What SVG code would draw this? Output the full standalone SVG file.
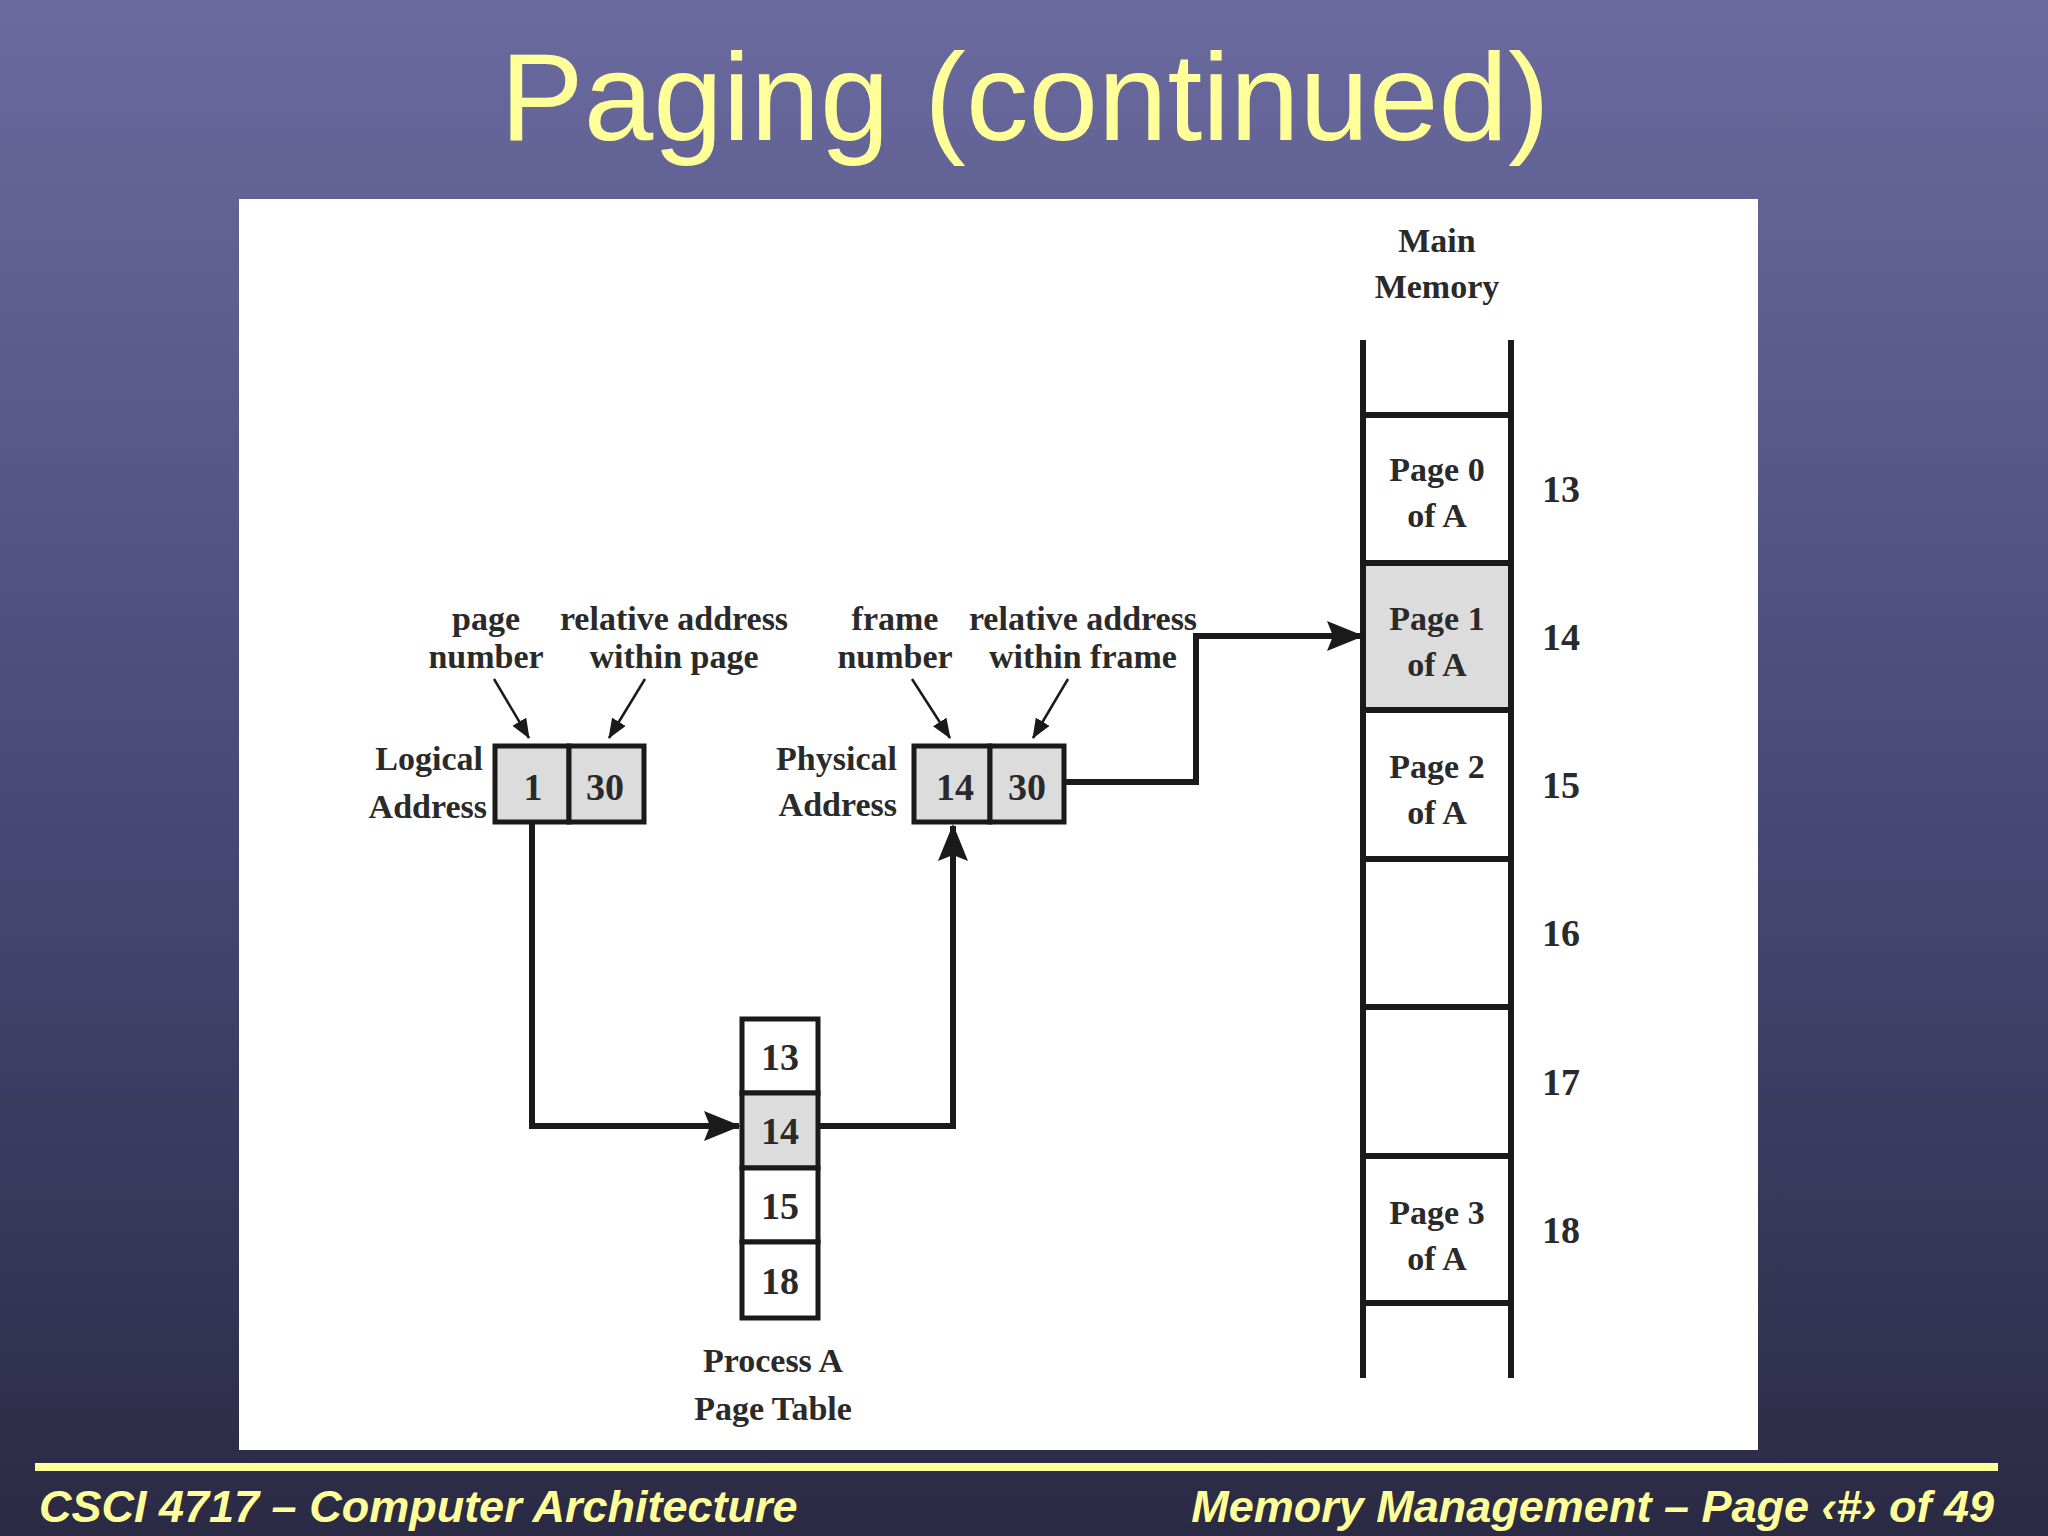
<svg xmlns="http://www.w3.org/2000/svg" width="2048" height="1536" viewBox="0 0 2048 1536">
<defs>
<linearGradient id="bg" x1="0" y1="0" x2="0" y2="1">
<stop offset="0" stop-color="#6b6a9f"/><stop offset="0.5" stop-color="#4a4a78"/><stop offset="1" stop-color="#2a2a44"/>
</linearGradient>
<marker id="ah" viewBox="0 0 37 30" refX="35" refY="15" markerWidth="37" markerHeight="30" orient="auto" markerUnits="userSpaceOnUse">
<path d="M0,0 L37,15 L0,30 L6,15 z" fill="#1a1a1a"/>
</marker>
<marker id="sa" viewBox="0 0 20 16" refX="19" refY="8" orient="auto" markerUnits="userSpaceOnUse" markerWidth="20" markerHeight="16">
<path d="M0,0 L20,8 L0,16 z" fill="#1a1a1a"/>
</marker>
<style>
.t{font-family:"Liberation Serif",serif;font-size:34px;font-weight:bold;fill:#2a2a2a;text-anchor:middle}
.n{font-family:"Liberation Serif",serif;font-size:38px;font-weight:bold;fill:#2a2a2a;text-anchor:middle}
.r{text-anchor:end}
.box{stroke:#1a1a1a;stroke-width:5;fill:#fff}
.g{fill:#dcdcdc}
.ln{stroke:#1a1a1a;stroke-width:6;fill:none}
.thin{stroke:#1a1a1a;stroke-width:2.5;fill:none}
.foot{font-family:"Liberation Sans",Arial,sans-serif;font-size:45px;font-style:italic;font-weight:bold;fill:#ffff99}
</style>
</defs>
<rect width="2048" height="1536" fill="url(#bg)"/>
<text x="1025" y="140" font-family="Liberation Sans,Arial,sans-serif" font-size="125" fill="#ffff99" text-anchor="middle">Paging (continued)</text>
<rect x="239" y="199" width="1519" height="1251" fill="#fff"/>
<rect x="35" y="1463" width="1963" height="8" fill="#ffff99"/>
<text class="foot" x="39" y="1522">CSCI 4717 – Computer Architecture</text>
<text class="foot" x="1994" y="1522" text-anchor="end">Memory Management – Page ‹#› of 49</text>

<g id="main-memory">
<text class="t" x="1437" y="252">Main</text><text class="t" x="1437" y="298">Memory</text>
<rect x="1363" y="563" width="148" height="147" class="g"/>
<line class="ln" x1="1363" y1="340" x2="1363" y2="1378"/><line class="ln" x1="1511" y1="340" x2="1511" y2="1378"/>
<g class="ln">
<line x1="1363" y1="415" x2="1511" y2="415"/><line x1="1363" y1="563" x2="1511" y2="563"/><line x1="1363" y1="710" x2="1511" y2="710"/>
<line x1="1363" y1="859" x2="1511" y2="859"/><line x1="1363" y1="1007" x2="1511" y2="1007"/><line x1="1363" y1="1156" x2="1511" y2="1156"/><line x1="1363" y1="1303" x2="1511" y2="1303"/>
</g>
<text class="t" x="1437" y="481">Page 0</text><text class="t" x="1437" y="527">of A</text>
<text class="t" x="1437" y="630">Page 1</text><text class="t" x="1437" y="676">of A</text>
<text class="t" x="1437" y="778">Page 2</text><text class="t" x="1437" y="824">of A</text>
<text class="t" x="1437" y="1224">Page 3</text><text class="t" x="1437" y="1270">of A</text>
<text class="n" x="1561" y="502">13</text><text class="n" x="1561" y="650">14</text><text class="n" x="1561" y="798">15</text>
<text class="n" x="1561" y="946">16</text><text class="n" x="1561" y="1095">17</text><text class="n" x="1561" y="1243">18</text>
</g>

<g id="logical-address">
<rect class="box" x="495" y="746" width="74" height="76" style="fill:#dcdcdc"/>
<rect class="box" x="569" y="746" width="75" height="76" style="fill:#dcdcdc"/>
<text class="n" x="533" y="800">1</text><text class="n" x="605" y="800">30</text>
<text class="t r" x="483" y="770">Logical</text><text class="t r" x="487" y="818">Address</text>
<text class="t" x="486" y="630">page</text><text class="t" x="486" y="668">number</text>
<text class="t" x="674" y="630">relative address</text><text class="t" x="674" y="668">within page</text>
<line class="thin" x1="494" y1="679" x2="529" y2="738" marker-end="url(#sa)"/>
<line class="thin" x1="645" y1="679" x2="609" y2="738" marker-end="url(#sa)"/>
</g>

<g id="physical-address">
<rect class="box" x="914" y="746" width="76" height="76" style="fill:#dcdcdc"/>
<rect class="box" x="990" y="746" width="74" height="76" style="fill:#dcdcdc"/>
<text class="n" x="955" y="800">14</text><text class="n" x="1027" y="800">30</text>
<text class="t r" x="897" y="770">Physical</text><text class="t r" x="897" y="816">Address</text>
<text class="t" x="895" y="630">frame</text><text class="t" x="895" y="668">number</text>
<text class="t" x="1083" y="630">relative address</text><text class="t" x="1083" y="668">within frame</text>
<line class="thin" x1="912" y1="679" x2="950" y2="738" marker-end="url(#sa)"/>
<line class="thin" x1="1068" y1="679" x2="1033" y2="738" marker-end="url(#sa)"/>
</g>

<g id="page-table">
<rect class="box" x="742" y="1019" width="76" height="74"/>
<rect class="box" x="742" y="1093" width="76" height="75" style="fill:#dcdcdc"/>
<rect class="box" x="742" y="1168" width="76" height="74"/>
<rect class="box" x="742" y="1242" width="76" height="76"/>
<text class="n" x="780" y="1070">13</text><text class="n" x="780" y="1144">14</text>
<text class="n" x="780" y="1219">15</text><text class="n" x="780" y="1294">18</text>
<text class="t" x="773" y="1372">Process A</text><text class="t" x="773" y="1420">Page Table</text>
</g>

<g id="connectors">
<polyline class="ln" points="532,822 532,1126 739,1126" marker-end="url(#ah)"/>
<polyline class="ln" points="818,1126 953,1126 953,826" marker-end="url(#ah)"/>
<polyline class="ln" points="1064,782 1196,782 1196,636 1362,636" marker-end="url(#ah)"/>
</g>
</svg>
